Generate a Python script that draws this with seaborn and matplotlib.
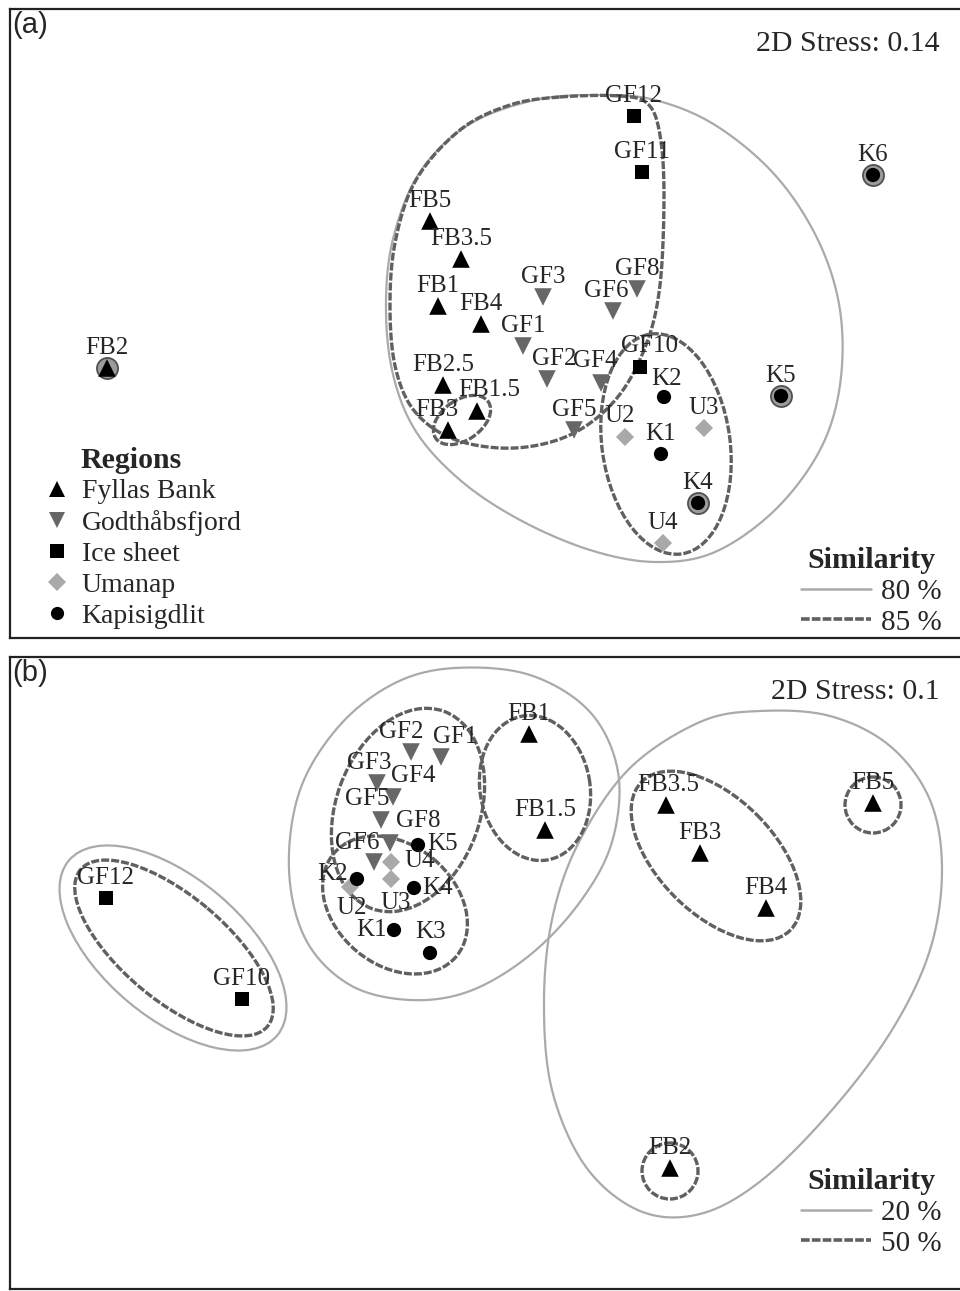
import numpy as np
import pandas as pd
import matplotlib
matplotlib.use("Agg")
import matplotlib.pyplot as plt
from matplotlib.lines import Line2D
from matplotlib.patches import Ellipse
import seaborn as sns

sns.set_style("white")
plt.rcParams["font.family"] = ["Liberation Serif", "DejaVu Serif"]

# ---------------------------------------------------------------
# Données (coordonnées MDS, repère image)
regions = ["Fyllas Bank", "Godthåbsfjord", "Ice sheet", "Umanap", "Kapisigdlit"]
couleurs = {"Fyllas Bank": "#000000", "Godthåbsfjord": "#676767",
            "Ice sheet": "#000000", "Umanap": "#a9a9a9", "Kapisigdlit": "#000000"}
marqueurs = {"Fyllas Bank": "^", "Godthåbsfjord": "v", "Ice sheet": "s",
             "Umanap": "D", "Kapisigdlit": "o"}
tailles = {"Fyllas Bank": 160, "Godthåbsfjord": 160, "Ice sheet": 115,
           "Umanap": 85, "Kapisigdlit": 105}

# panel (a) : 2D stress 0.14
stations_a = ["FB2", "FB5", "FB3.5", "FB1", "FB4", "GF3", "GF8", "GF6", "GF1", "GF2",
              "GF4", "GF10", "GF12", "GF11", "FB2.5", "FB1.5", "FB3", "GF5", "U2",
              "U3", "K2", "K1", "K4", "U4", "K5", "K6"]
region_a = ["Fyllas Bank", "Fyllas Bank", "Fyllas Bank", "Fyllas Bank", "Fyllas Bank",
            "Godthåbsfjord", "Godthåbsfjord", "Godthåbsfjord", "Godthåbsfjord",
            "Godthåbsfjord", "Godthåbsfjord", "Ice sheet", "Ice sheet", "Ice sheet",
            "Fyllas Bank", "Fyllas Bank", "Fyllas Bank", "Godthåbsfjord", "Umanap",
            "Umanap", "Kapisigdlit", "Kapisigdlit", "Kapisigdlit", "Umanap",
            "Kapisigdlit", "Kapisigdlit"]
x_a = [107, 430, 461, 438, 481, 543, 637, 613, 523, 547, 601, 640, 634, 642, 443, 477,
       448, 574, 625, 704, 664, 661, 698, 663, 781, 873]
y_a = [368, 221, 259, 306, 324, 297, 289, 311, 346, 379, 383, 367, 116, 172, 385, 411,
       430, 430, 437, 428, 397, 454, 503, 543, 396, 175]
halo_a = ["FB2", "K4", "K5", "K6"]

# panel (b) : 2D stress 0.1
stations_b = ["GF12", "GF10", "GF2", "GF1", "GF3", "GF4", "GF5", "GF8", "GF6", "K5",
              "U2", "U4", "U3", "K2", "K4", "K1", "K3", "FB1", "FB1.5", "FB3.5", "FB3",
              "FB4", "FB5", "FB2"]
region_b = ["Ice sheet", "Ice sheet", "Godthåbsfjord", "Godthåbsfjord", "Godthåbsfjord",
            "Godthåbsfjord", "Godthåbsfjord", "Godthåbsfjord", "Godthåbsfjord",
            "Kapisigdlit", "Umanap", "Umanap", "Umanap", "Kapisigdlit", "Kapisigdlit",
            "Kapisigdlit", "Kapisigdlit", "Fyllas Bank", "Fyllas Bank", "Fyllas Bank",
            "Fyllas Bank", "Fyllas Bank", "Fyllas Bank", "Fyllas Bank"]
x_b = [106, 242, 411, 441, 377, 393, 381, 390, 374, 418, 350, 391, 391, 357, 414, 394,
       430, 529, 545, 666, 700, 766, 873, 670]
y_b = [898, 999, 752, 757, 783, 797, 820, 843, 862, 845, 887, 862, 879, 879, 888, 930,
       953, 734, 830, 805, 853, 908, 803, 1168]

# décalages des étiquettes (défaut : centrées au-dessus)
decal_a = {"FB3": (-11, -20), "FB1.5": (12, -21), "GF4": (-6, -22), "GF6": (-7, -20),
           "GF10": (9, -21), "U2": (-5, -21), "K2": (3, -18), "GF2": (7, -20)}
decal_b = {"GF2": (-10, -20), "GF1": (14, -20), "GF3": (-8, -20), "GF4": (20, -21),
           "GF5": (-14, -21), "GF8": (28, -22), "GF6": (-17, -19), "K5": (25, -1),
           "U4": (29, -1), "K2": (-24, -5), "U2": (2, 21), "U3": (5, 24),
           "K4": (24, 0), "K1": (-22, 0), "K3": (1, -21), "FB3.5": (2, -20)}

# contours de similarité (a) : 80 % / 85 %
contour80_a = [(600, 95), (655, 100), (715, 125), (775, 175), (818, 240), (840, 310),
               (840, 385), (820, 450), (775, 510), (715, 552), (655, 562), (590, 550),
               (520, 520), (460, 480), (415, 430), (392, 370), (386, 300), (394, 235),
               (420, 172), (468, 125), (535, 100)]
contour85_a = [(560, 97), (620, 96), (648, 104), (660, 135), (664, 195), (660, 285),
               (646, 345), (617, 398), (572, 434), (515, 448), (456, 440), (416, 413),
               (396, 370), (390, 310), (395, 243), (416, 180), (460, 130), (510, 105)]
ellipses85_a = [(462, 420, 64, 40, -35), (666, 444, 222, 128, 82)]

# contours de similarité (b) : 20 % / 50 %
contour20_b = [(455, 668), (530, 675), (590, 712), (618, 772), (612, 842), (580, 902),
               (530, 955), (470, 991), (410, 1000), (350, 985), (306, 940), (289, 870),
               (300, 790), (340, 725), (395, 683)]
contour20fb_b = [(700, 722), (760, 711), (830, 716), (890, 746), (930, 800), (942, 870),
                 (930, 950), (892, 1030), (832, 1110), (762, 1180), (700, 1214),
                 (640, 1211), (586, 1167), (552, 1090), (544, 1000), (553, 915),
                 (580, 840), (630, 768)]
ellipses20_b = [(173, 948, 272, 140, 40)]
ellipses50_b = [(174, 948, 244, 104, 40), (408, 810, 210, 144, -70),
                (395, 905, 160, 120, 40), (535, 788, 146, 110, 80),
                (716, 856, 210, 116, 45), (873, 805, 56, 56, 0), (670, 1171, 56, 56, 0)]

COL80 = "#aaaaaa"
COL85 = "#606060"
STYLE85 = (0, (2.4, 0.6))


def courbe_fermee(pts, n=40):
    # spline de Catmull-Rom fermée
    p = np.asarray(pts, float)
    k = len(p)
    t = np.linspace(0, 1, n, endpoint=False)[:, None]
    morceaux = []
    for i in range(k):
        p0, p1, p2, p3 = p[(i - 1) % k], p[i], p[(i + 1) % k], p[(i + 2) % k]
        morceaux.append(0.5 * (2 * p1 + (-p0 + p2) * t
                               + (2 * p0 - 5 * p1 + 4 * p2 - p3) * t ** 2
                               + (-p0 + 3 * p1 - 3 * p2 + p3) * t ** 3))
    c = np.vstack(morceaux)
    return np.vstack([c, c[:1]])


def tracer_contour(ax, pts, couleur, lw, ls="-"):
    c = courbe_fermee(pts)
    ax.plot(c[:, 0], c[:, 1], color=couleur, lw=lw, ls=ls, zorder=2)


def tracer_ellipse(ax, e, couleur, lw, ls="-"):
    cx, cy, w, h, ang = e
    ax.add_patch(Ellipse((cx, cy), w, h, angle=ang, fill=False, edgecolor=couleur,
                         lw=lw, ls=ls, zorder=2))


def tracer_points(ax, stations, region, xs, ys, decal, halo=()):
    df = pd.DataFrame({"station": stations, "region": region, "x": xs, "y": ys})
    for _, r in df[df.station.isin(halo)].iterrows():
        ax.scatter(r.x, r.y, s=230, facecolor="#9c9c9c", edgecolor="#505050",
                   lw=1.3, zorder=3)
    sns.scatterplot(data=df, x="x", y="y", hue="region", style="region", size="region",
                    palette=couleurs, markers=marqueurs, sizes=tailles,
                    hue_order=regions, style_order=regions, size_order=regions,
                    edgecolor="none", linewidth=0, legend=False, ax=ax, zorder=4)
    for _, r in df.iterrows():
        dx, dy = decal.get(r.station, (0, -20))
        ax.text(r.x + dx, r.y + dy, r.station, ha="center", va="center",
                fontsize=18, zorder=5)


def cadre(ax, y0, y1, lettre, stress):
    ax.set_xlim(10, 970)
    ax.set_ylim(y1, y0)
    ax.set_xticks([])
    ax.set_yticks([])
    ax.set_xlabel("")
    ax.set_ylabel("")
    for nom, sp in ax.spines.items():
        sp.set_color("#222222")
        sp.set_linewidth(1.6)
    ax.spines["right"].set_visible(False)
    ax.text(12, y0 + 2, lettre, ha="left", va="top", fontsize=21,
            family=["Liberation Sans", "DejaVu Sans"])
    ax.text(940, y0 + 35, stress, ha="right", va="center", fontsize=21.5)


def legende_similarite(ax, ancre, niveaux):
    poignees = [Line2D([], [], color=COL80, lw=1.8),
                Line2D([], [], color=COL85, lw=2.6, ls=STYLE85)]
    leg = ax.legend(poignees, niveaux, loc="upper right", bbox_to_anchor=ancre,
                    bbox_transform=ax.transData, frameon=False, fontsize=21,
                    title="Similarity", title_fontproperties={"weight": "bold", "size": 21.5},
                    handlelength=2.4, handletextpad=0.35, labelspacing=0.15,
                    borderpad=0, borderaxespad=0, markerfirst=True)
    return leg


fig = plt.figure(figsize=(9.6, 12.91), dpi=100)
W, H = 960, 1291
ax_a = fig.add_axes([10 / W, 1 - 638 / H, 1.0, (638 - 9) / H])
ax_b = fig.add_axes([10 / W, 1 - 1289 / H, 1.0, (1289 - 657) / H])

# ---------------------------- panel (a)
tracer_contour(ax_a, contour80_a, COL80, 1.6)
tracer_contour(ax_a, contour85_a, COL85, 2.4, STYLE85)
for e in ellipses85_a:
    tracer_ellipse(ax_a, e, COL85, 2.4, STYLE85)
tracer_points(ax_a, stations_a, region_a, x_a, y_a, decal_a, halo_a)
cadre(ax_a, 9, 638, "(a)", "2D Stress: 0.14")

poignees_reg = [Line2D([], [], marker=marqueurs[r], color=couleurs[r], ls="",
                       markersize=12 if r in ("Fyllas Bank", "Godthåbsfjord") else 9.5,
                       markeredgewidth=0) for r in regions]
leg_reg = ax_a.legend(poignees_reg, regions, loc="upper left", bbox_to_anchor=(44, 479),
                      bbox_transform=ax_a.transData, frameon=False, fontsize=20,
                      handlelength=0.9, handletextpad=0.45, labelspacing=0.2,
                      borderpad=0, borderaxespad=0)
ax_a.add_artist(leg_reg)
ax_a.text(80, 461, "Regions", ha="left", va="center", fontsize=21.5, weight="bold")
legende_similarite(ax_a, (942, 547), ["80 %", "85 %"])

# ---------------------------- panel (b)
tracer_contour(ax_b, contour20_b, COL80, 1.6)
tracer_contour(ax_b, contour20fb_b, COL80, 1.6)
for e in ellipses20_b:
    tracer_ellipse(ax_b, e, COL80, 1.6)
for e in ellipses50_b:
    tracer_ellipse(ax_b, e, COL85, 2.4, STYLE85)
tracer_points(ax_b, stations_b, region_b, x_b, y_b, decal_b)
cadre(ax_b, 657, 1289, "(b)", "2D Stress: 0.1")
legende_similarite(ax_b, (942, 1168), ["20 %", "50 %"])

fig.savefig("out.png", dpi=100, facecolor="white")
